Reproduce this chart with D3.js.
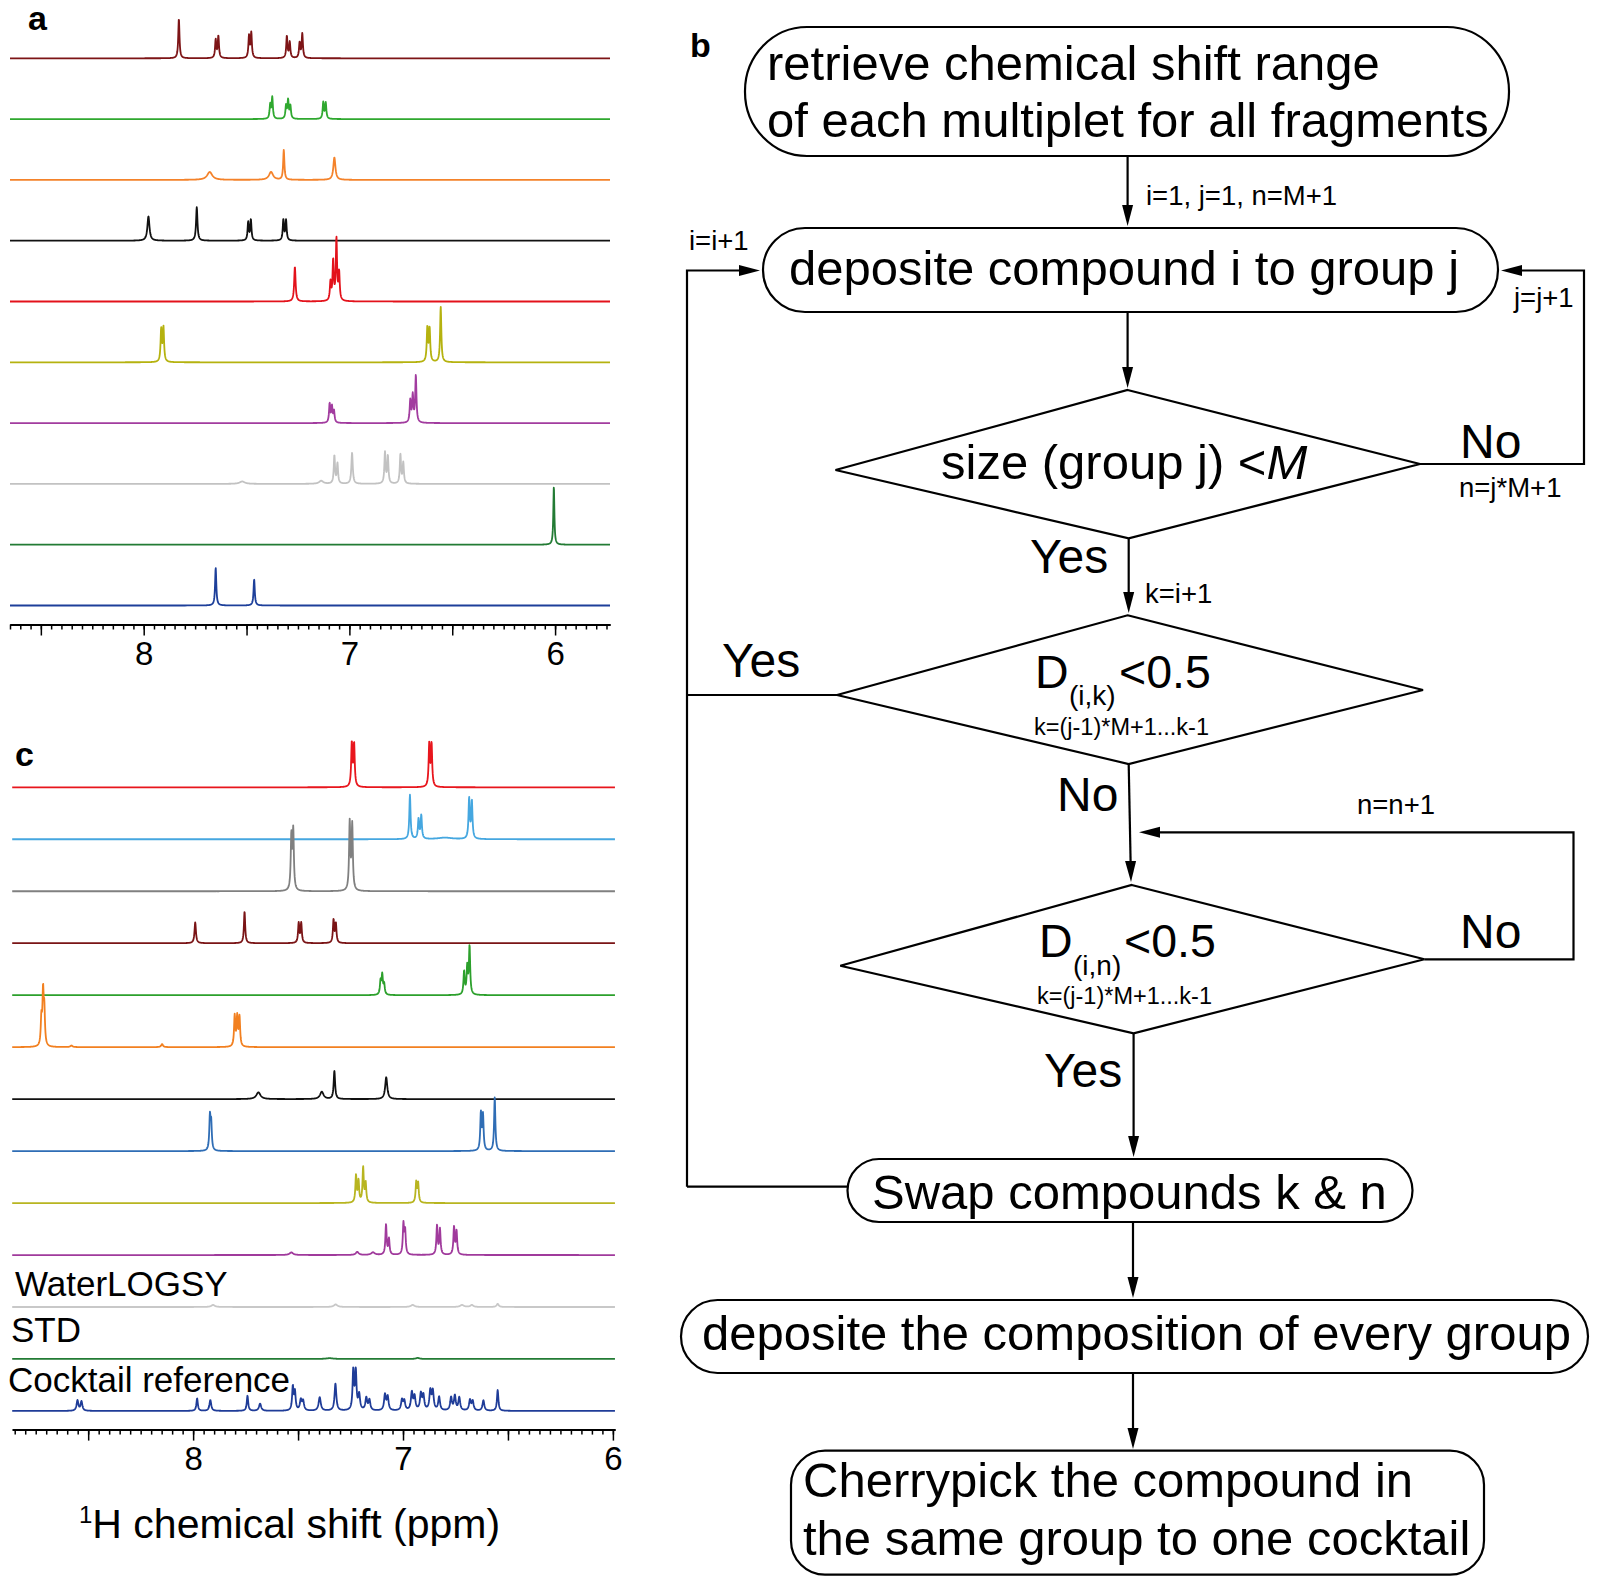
<!DOCTYPE html>
<html><head><meta charset="utf-8">
<script src="https://cdn.jsdelivr.net/npm/d3@7"></script>
<style>
body{margin:0;background:#fff}
svg{display:block}
text{font-family:"Liberation Sans",Arial,Helvetica,sans-serif;fill:#000}
</style></head>
<body><svg id="chart" width="1600" height="1586"></svg>
<script>
// ---------------- DATA ----------------
// Peaks: [chemical shift (ppm), intensity (% of trace spacing), optional half-width (ppm)]
// Panel a: ten fragment spectra (top to bottom)
const peaksA1 = [[7.829,65],[7.650,30],[7.637,36],[7.488,36],[7.477,41],[7.304,36],[7.290,26],[7.242,25],[7.229,40]];
const peaksA2 = [[7.385,23],[7.375,35],[7.308,21],[7.298,30],[7.287,21],[7.127,27],[7.115,26]];
const peaksA3 = [[7.679,13,0.015],[7.381,13,0.012],[7.319,49,0.0035],[7.073,37,0.006]];
const peaksA4 = [[7.977,40,0.006],[7.742,55,0.004],[7.492,30],[7.479,34],[7.321,34],[7.308,33]];
const peaksA5 = [[7.265,57,0.004],[7.092,30],[7.079,65],[7.063,101],[7.050,45]];
const peaksA6 = [[7.915,53],[7.904,56],[6.621,56],[6.610,54],[6.556,91]];
const peaksA7 = [[7.096,31],[7.085,26],[7.075,19],[6.704,36],[6.692,44],[6.677,77]];
const peaksA8 = [[7.521,4,0.015],[7.137,5,0.012],[7.073,46],[7.058,33],[6.987,51,0.004],[6.827,51],[6.813,45],[6.752,48],[6.738,34]];
const peaksA9 = [[6.006,96,0.003]];
const peaksA10 = [[7.650,62],[7.463,43]];
const colorsA = ["#7d1416","#2fa82f","#f4822a","#111111","#e3121b","#b5b20f","#a23c9f","#c2c2c2","#237b34","#1d3f9a"];

// Panel c: ten compound spectra + WaterLOGSY, STD, cocktail reference
const peaksC1 = [[7.244,83],[7.233,81],[6.875,81],[6.864,81]];
const peaksC2 = [[6.967,85],[6.926,38],[6.913,45],[6.685,77],[6.672,72],[6.80,3,0.04]];
const peaksC3 = [[7.532,103],[7.523,113],[7.254,130],[7.242,125]];
const peaksC4 = [[7.990,40,0.004],[7.755,61],[7.497,38],[7.485,38],[7.331,44],[7.320,37]];
const peaksC5 = [[7.107,26],[7.099,37],[7.090,20],[6.709,44],[6.694,52],[6.683,92]];
const peaksC6 = [[8.723,51],[8.715,99],[8.709,64],[8.580,3,0.006],[8.148,6,0.005],[7.802,59],[7.790,56],[7.779,56]];
const peaksC7 = [[7.689,13,0.012],[7.387,14,0.01],[7.327,54,0.004],[7.080,42,0.006]];
const peaksC8 = [[7.920,63],[7.914,50],[6.629,71],[6.619,67],[6.563,103]];
const peaksC9 = [[7.224,52],[7.212,41],[7.190,67],[7.178,37],[6.937,39],[6.928,37]];
const peaksC10 = [[7.532,5,0.01],[7.218,6,0.008],[7.143,5,0.01],[7.081,58],[7.067,30],[6.998,58],[6.990,45],[6.838,56],[6.824,49],[6.757,53],[6.745,45]];
const peaksC11 = [[7.905,4,0.01],[7.321,5,0.01],[6.954,4,0.01],[6.719,4,0.01],[6.672,4,0.008],[6.549,6,0.006]];
const peaksC12 = [[7.35,1.5,0.02],[6.93,2,0.01]];
const peaksC13 = [[8.551,20,0.005],[8.532,18,0.005],[7.981,24,0.004],[7.918,21,0.005],[7.741,29,0.004],[7.681,14,0.006],
  [7.525,45,0.004],[7.515,35,0.004],[7.487,20,0.005],[7.476,18,0.005],[7.397,26,0.006],[7.322,52,0.005],
  [7.237,76,0.004],[7.225,73,0.004],[7.209,30,0.005],[7.175,24,0.005],[7.160,20,0.005],[7.086,30,0.005],[7.073,26,0.005],
  [7.005,20,0.005],[6.994,18,0.005],[6.958,34,0.005],[6.945,26,0.005],[6.915,31,0.005],[6.903,28,0.005],
  [6.870,37,0.005],[6.858,36,0.005],[6.828,26,0.005],[6.771,25,0.005],[6.753,28,0.005],[6.732,25,0.005],
  [6.681,20,0.005],[6.668,18,0.005],[6.617,20,0.005],[6.549,40,0.004]];
const colorsC = ["#e8161d","#45a7e0","#808080","#7a1416","#2ca02c","#f28020","#111111","#2f6db5","#b8b520","#a03a9c","#c8c8c8","#237b34","#1f3c98"];
const labelsC = ["","","","","","","","","","","WaterLOGSY","STD","Cocktail reference"];

const tickLabels = [8, 7, 6];
const axisTitle = "H chemical shift (ppm)";

// ---------------- DRAW ----------------
const svg = d3.select("#chart");
const spectraA = [peaksA1,peaksA2,peaksA3,peaksA4,peaksA5,peaksA6,peaksA7,peaksA8,peaksA9,peaksA10];
const spectraC = [peaksC1,peaksC2,peaksC3,peaksC4,peaksC5,peaksC6,peaksC7,peaksC8,peaksC9,peaksC10,peaksC11,peaksC12,peaksC13];

function lineshape(peaks, x) {
  const [r0, r1] = x.range();
  const pts = [];
  for (let px = r0; px <= r1 + 1e-6; px += 0.25) {
    const ppm = x.invert(px);
    let s = 0;
    for (const p of peaks) {
      const w = p[2] || 0.0035;
      const u = (ppm - p[0]) / w;
      s += p[1] / (1 + u * u);
    }
    pts.push([ppm, s]);
  }
  return pts;
}

function drawPanel(spectra, colors, x, base0, spacing, axisY) {
  const yI = d3.scaleLinear().domain([0, 100]).range([0, spacing]);
  const g = svg.append("g");
  spectra.forEach((peaks, i) => {
    const base = base0 + i * spacing;
    const line = d3.line().x(d => x(d[0])).y(d => base - yI(d[1]));
    g.append("path").attr("d", line(lineshape(peaks, x)))
      .attr("fill", "none").attr("stroke", colors[i]).attr("stroke-width", 1.8)
      .attr("stroke-linejoin", "round");
  });
  // axis
  const [d0, d1] = x.domain();
  const minor = d3.range(Math.floor(d0 * 20) / 20, d1 - 1e-6, -0.05).filter(v => v >= d1 - 1e-9);
  const major = minor.filter(v => Math.abs(v * 2 - Math.round(v * 2)) < 1e-6);
  const axMinor = d3.axisBottom(x).tickValues(minor).tickSize(5).tickSizeOuter(0).tickFormat("");
  const axMajor = d3.axisBottom(x).tickValues(major).tickSize(11).tickSizeOuter(0).tickPadding(6)
    .tickFormat(v => tickLabels.some(t => Math.abs(t - v) < 1e-6) ? d3.format("d")(v) : "");
  const gm = svg.append("g").attr("transform", `translate(0,${axisY})`).call(axMinor);
  const gM = svg.append("g").attr("transform", `translate(0,${axisY})`).call(axMajor);
  [gm, gM].forEach(a => {
    a.attr("font-family", null).attr("font-size", null);
    a.select(".domain").attr("stroke", "#000").attr("stroke-width", 2);
    a.selectAll(".tick line").attr("stroke", "#000").attr("stroke-width", 1.5);
    a.selectAll(".tick text").style("font-size", "33px").attr("fill", "#000");
  });
  return g;
}

// Panel a
const xA = d3.scaleLinear().domain([8.65, 5.733]).range([10, 610]);
drawPanel(spectraA, colorsA, xA, 58.3, 60.8, 624.5);

// Panel c
const xC = d3.scaleLinear().domain([8.862, 5.99]).range([12.2, 615]);
drawPanel(spectraC, colorsC, xC, 787.3, 51.97, 1429.6);

const labelY = [0,0,0,0,0,0,0,0,0,0,1296,1342,1392];
const labelX = [0,0,0,0,0,0,0,0,0,0,15,11,8];
labelsC.forEach((t, i) => {
  if (!t) return;
  svg.append("text").attr("x", labelX[i]).attr("y", labelY[i]).style("font-size", "35px").text(t);
});
const at = svg.append("text").attr("x", 79).attr("y", 1538).style("font-size", "41px");
at.append("tspan").attr("dy", -15).style("font-size", "24px").text("1");
at.append("tspan").attr("dy", 15).text(axisTitle);

// panel letters
[["a", 28, 30], ["c", 15, 766], ["b", 690, 57]].forEach(([t, x, y]) =>
  svg.append("text").attr("x", x).attr("y", y).style("font-size", "34px").style("font-weight", "bold").text(t));

// ---------------- Panel b flowchart ----------------
const fc = svg.append("g");
const SW = 2.2;
function box(x, y, w, h, rx, ry) {
  fc.append("rect").attr("x", x).attr("y", y).attr("width", w).attr("height", h)
    .attr("rx", rx).attr("ry", ry === undefined ? rx : ry)
    .attr("fill", "none").attr("stroke", "#000").attr("stroke-width", SW);
}
function diamond(pts) {
  fc.append("path").attr("d", "M" + pts.join("L") + "Z").attr("fill", "none")
    .attr("stroke", "#000").attr("stroke-width", SW).attr("stroke-linejoin", "miter");
}
function arrow(pts, head = true) {
  const p = pts.map(d => d.slice());
  if (head) {
    const [x1, y1] = p[p.length - 2], [x2, y2] = p[p.length - 1];
    const a = Math.atan2(y2 - y1, x2 - x1), L = 21, W = 5.5;
    const bx = x2 - L * Math.cos(a), by = y2 - L * Math.sin(a);
    fc.append("path").attr("d", "M" + [[x2, y2], [bx - W * Math.sin(a), by + W * Math.cos(a)], [bx + W * Math.sin(a), by - W * Math.cos(a)]].join("L") + "Z")
      .attr("fill", "#000");
    p[p.length - 1] = [bx + 2 * Math.cos(a), by + 2 * Math.sin(a)];
  }
  fc.append("path").attr("d", d3.line()(p)).attr("fill", "none").attr("stroke", "#000").attr("stroke-width", SW);
}
function txt(x, y, s, size, opts = {}) {
  const t = fc.append("text").attr("x", x).attr("y", y).style("font-size", size + "px").text(s);
  if (opts.italic) t.style("font-style", "italic");
  return t;
}

box(745, 27, 764, 129, 62, 64);
txt(767, 80, "retrieve chemical shift range", 49);
txt(767, 137, "of each multiplet for all fragments", 49);
arrow([[1127.6, 156], [1127.6, 226]]);
txt(1146, 205, "i=1, j=1, n=M+1", 27.5);

box(763, 228, 735, 84, 42);
txt(789, 285, "deposite compound i to group j", 49);
arrow([[1127.6, 312], [1127.6, 388]]);

diamond([[1127.6, 390], [1420, 464], [1128.7, 538.3], [835.5, 470]]);
const t1 = txt(941, 479, "size (group j) <", 49);
t1.append("tspan").style("font-style", "italic").text("M");
txt(1460, 458, "No", 48);
txt(1459, 497, "n=j*M+1", 27.5);
arrow([[1420, 464], [1584, 464], [1584, 270.5], [1501, 270.5]]);
txt(1514, 307, "j=j+1", 27.5);

txt(1030, 573, "Yes", 48);
arrow([[1128.7, 538.3], [1128.7, 613]]);
txt(1145, 603, "k=i+1", 27.5);

diamond([[1127.6, 615.3], [1423, 690], [1128.7, 764], [837, 695]]);
const t2 = txt(1035, 688, "D", 46.5);
t2.append("tspan").attr("x", 1069).attr("y", 705).style("font-size", "28px").text("(i,k)");
t2.append("tspan").attr("x", 1119).attr("y", 688).text("<0.5");
txt(1034, 735, "k=(j-1)*M+1...k-1", 23.5);
txt(722, 677, "Yes", 48);
arrow([[837, 695], [687, 695]], false);
arrow([[687, 1186.7], [687, 270.5], [760, 270.5]]);
txt(689, 250, "i=i+1", 27.5);

txt(1057, 811, "No", 48);
arrow([[1128.7, 764], [1131, 882]]);
txt(1357, 814, "n=n+1", 27.5);
arrow([[1424.4, 959.3], [1573.5, 959.3], [1573.5, 832.3], [1139, 832.3]]);

diamond([[1131.7, 885], [1424.4, 959.3], [1133.6, 1033.3], [840.3, 965.7]]);
const t3 = txt(1039, 957, "D", 46.5);
t3.append("tspan").attr("x", 1073).attr("y", 975).style("font-size", "28px").text("(i,n)");
t3.append("tspan").attr("x", 1124).attr("y", 957).text("<0.5");
txt(1037, 1004, "k=(j-1)*M+1...k-1", 23.5);
txt(1460, 948, "No", 48);
txt(1044, 1087, "Yes", 48);
arrow([[1133.6, 1033.3], [1133.6, 1157]]);

box(847.5, 1159, 565, 63, 31.5);
txt(872, 1209, "Swap compounds k & n", 49);
arrow([[847.5, 1186.7], [687, 1186.7]], false);
arrow([[1133, 1222], [1133, 1298]]);

box(681, 1300, 907, 73, 36.5);
txt(702, 1350, "deposite the composition of every group", 49);
arrow([[1133, 1373], [1133, 1449]]);

box(791, 1450.7, 693, 124, 34);
txt(803, 1497, "Cherrypick the compound in", 49);
txt(803, 1555, "the same group to one cocktail", 49);
</script>
</body></html>
